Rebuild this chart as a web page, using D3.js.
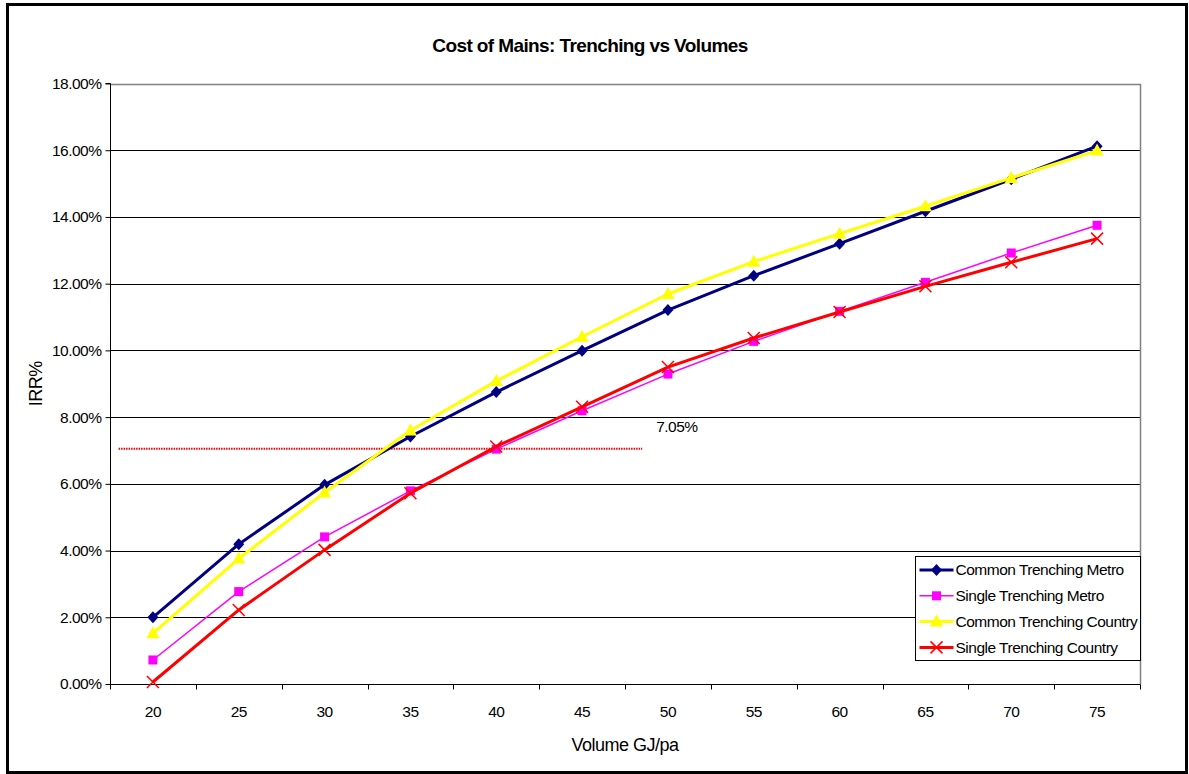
<!DOCTYPE html>
<html>
<head>
<meta charset="utf-8">
<script src="https://cdn.jsdelivr.net/npm/d3@7"></script>
<style>
  html, body { margin: 0; padding: 0; background: #fff; }
  svg { display: block; font-family: "Liberation Sans", Arial, sans-serif; }
</style>
</head>
<body>
<svg id="chart" width="1189" height="774"></svg>
<script>
// Annual volume per customer (GJ/pa)
const volumes = [20, 25, 30, 35, 40, 45, 50, 55, 60, 65, 70, 75];

// IRR (%) for each trenching scenario
const commonMetro    = [2.00, 4.19, 5.97, 7.42, 8.75, 9.99, 11.21, 12.24, 13.20, 14.17, 15.13, 16.12];
const singleMetro    = [0.72, 2.77, 4.41, 5.79, 7.04, 8.19, 9.29, 10.27, 11.17, 12.04, 12.92, 13.75];
const commonCountry  = [1.52, 3.76, 5.74, 7.60, 9.08, 10.41, 11.69, 12.66, 13.50, 14.32, 15.17, 15.99];
const singleCountry  = [0.06, 2.22, 4.02, 5.72, 7.12, 8.31, 9.50, 10.37, 11.15, 11.92, 12.64, 13.35];

const seriesNames = ["Common Trenching Metro", "Single Trenching Metro", "Common Trenching Country", "Single Trenching Country"];
const yTicks = [0, 2, 4, 6, 8, 10, 12, 14, 16, 18];

// Hurdle rate marker
const hurdleRate = 7.05;
const hurdleFrom = 18;   // x-extent expressed in volume units
const hurdleTo = 48.5;

const series = [
  { name: seriesNames[0], values: commonMetro,   color: "#000080", width: 3,   marker: "diamond" },
  { name: seriesNames[1], values: singleMetro,   color: "#FF00FF", width: 1.5, marker: "square" },
  { name: seriesNames[2], values: commonCountry, color: "#FFFF00", width: 3,   marker: "triangle" },
  { name: seriesNames[3], values: singleCountry, color: "#FF0000", width: 3,   marker: "cross" }
];

const svg = d3.select("#chart");
const plot = { left: 110, right: 1140, top: 83.5, bottom: 684 };
const labelSize = 15.5;

const x = d3.scaleBand().domain(volumes).range([plot.left, plot.right]).paddingInner(0).paddingOuter(0);
const xc = v => x(v) + x.bandwidth() / 2;
// continuous companion scale in volume units for the hurdle line
const xLin = d3.scaleLinear()
  .domain([volumes[0] - 2.5, volumes[volumes.length - 1] + 2.5])
  .range([plot.left, plot.right]);
const y = d3.scaleLinear().domain([0, 18]).range([plot.bottom, plot.top]);

// outer chart frame
svg.append("rect")
  .attr("x", 7.5).attr("y", 4.5).attr("width", 1179).attr("height", 768)
  .attr("fill", "#fff").attr("stroke", "#000").attr("stroke-width", 3);

// title
svg.append("text")
  .attr("x", 590).attr("y", 52)
  .attr("text-anchor", "middle")
  .attr("font-weight", "bold").attr("font-size", 19)
  .attr("letter-spacing", -0.6)
  .text("Cost of Mains: Trenching vs Volumes");

// gridlines
svg.append("g")
  .selectAll("line")
  .data(yTicks.filter(t => t > 0 && t < 18))
  .join("line")
  .attr("x1", plot.left).attr("x2", plot.right)
  .attr("y1", d => Math.round(y(d)) + 0.5).attr("y2", d => Math.round(y(d)) + 0.5)
  .attr("stroke", "#000").attr("stroke-width", 1);

// plot frame: top and right in grey
svg.append("path")
  .attr("d", `M${plot.left},${Math.round(plot.top) + 0.5}H${plot.right + 0.5}V${plot.bottom}`)
  .attr("fill", "none").attr("stroke", "#808080").attr("stroke-width", 1.5);

// y axis
const yAxis = d3.axisLeft(y)
  .tickValues(yTicks)
  .tickSize(5).tickPadding(4)
  .tickFormat(d => d.toFixed(2) + "%");
const gy = svg.append("g").attr("transform", `translate(${plot.left + 0.5},0)`).call(yAxis);
gy.select(".domain").attr("stroke", "#000").attr("d", `M-5,${y(18)}H0V${plot.bottom}`);
gy.selectAll(".tick line").attr("stroke", "#000");
gy.selectAll(".tick text").attr("font-size", labelSize).attr("letter-spacing", -0.5).attr("fill", "#000")
  .attr("font-family", "Liberation Sans, Arial, sans-serif");

// x axis: labels at category centres, ticks on category boundaries
const xAxis = d3.axisBottom(x).tickSize(0).tickPadding(21);
const gx = svg.append("g").attr("transform", `translate(0,${plot.bottom + 0.5})`).call(xAxis);
gx.select(".domain").attr("stroke", "#000").attr("d", `M${plot.left},0H${plot.right + 0.5}`);
gx.selectAll(".tick text").attr("font-size", labelSize).attr("letter-spacing", -0.5).attr("fill", "#000")
  .attr("font-family", "Liberation Sans, Arial, sans-serif");
const boundaries = volumes.map(v => x(v)).concat([x(volumes[volumes.length - 1]) + x.bandwidth()]);
gx.append("g").selectAll("line")
  .data(boundaries)
  .join("line")
  .attr("x1", d => Math.round(d) + 0.5).attr("x2", d => Math.round(d) + 0.5)
  .attr("y1", 0).attr("y2", 5)
  .attr("stroke", "#000");

// axis titles
svg.append("text")
  .attr("x", (plot.left + plot.right) / 2).attr("y", 751)
  .attr("text-anchor", "middle").attr("font-size", 18).attr("letter-spacing", -0.5)
  .text("Volume GJ/pa");
svg.append("text")
  .attr("transform", `translate(42,${(plot.top + plot.bottom) / 2}) rotate(-90)`)
  .attr("text-anchor", "middle").attr("font-size", 18).attr("letter-spacing", -0.5)
  .text("IRR%");

// hurdle line
svg.append("line")
  .attr("x1", xLin(hurdleFrom)).attr("x2", xLin(hurdleTo))
  .attr("y1", y(hurdleRate)).attr("y2", y(hurdleRate))
  .attr("stroke", "#FF0000").attr("stroke-width", 2)
  .attr("stroke-dasharray", "1.5,1");
svg.append("text")
  .attr("x", xLin(hurdleTo) + 14).attr("y", y(hurdleRate) - 17)
  .attr("font-size", labelSize).attr("letter-spacing", -0.5)
  .text(hurdleRate.toFixed(2) + "%");

// marker shapes
function drawMarker(g, type, color) {
  if (type === "diamond") {
    g.append("path").attr("d", "M0,-6L5.5,0L0,6L-5.5,0Z").attr("fill", color);
  } else if (type === "square") {
    g.append("rect").attr("x", -4.5).attr("y", -4.5).attr("width", 9).attr("height", 9).attr("fill", color);
  } else if (type === "triangle") {
    g.append("path").attr("d", "M0,-7L6.5,5L-6.5,5Z").attr("fill", color);
  } else if (type === "cross") {
    g.append("path").attr("d", "M-6,-6L6,6M6,-6L-6,6").attr("stroke", color).attr("stroke-width", 1.5).attr("fill", "none");
  }
}

const line = d3.line().x((d, i) => xc(volumes[i])).y(d => y(d));

series.forEach(s => {
  svg.append("path")
    .datum(s.values)
    .attr("d", line)
    .attr("fill", "none")
    .attr("stroke", s.color)
    .attr("stroke-width", s.width)
    .attr("stroke-linejoin", "round");
  svg.append("g").selectAll("g")
    .data(s.values)
    .join("g")
    .attr("transform", (d, i) => `translate(${xc(volumes[i])},${y(d)})`)
    .each(function () { drawMarker(d3.select(this), s.marker, s.color); });
});

// legend
const legend = svg.append("g").attr("transform", "translate(915.5,556.5)");
legend.append("rect").attr("width", 225).attr("height", 104)
  .attr("fill", "#fff").attr("stroke", "#000").attr("stroke-width", 1);
series.forEach((s, i) => {
  const gy0 = 13.5 + i * 25.8;
  const item = legend.append("g").attr("transform", `translate(0,${gy0})`);
  item.append("line").attr("x1", 4).attr("x2", 38).attr("y1", 0).attr("y2", 0)
    .attr("stroke", s.color).attr("stroke-width", s.width === 1.5 ? 1.5 : 3);
  const m = item.append("g").attr("transform", "translate(21,0)");
  drawMarker(m, s.marker, s.color);
  item.append("text").attr("x", 40).attr("y", 0).attr("dy", "0.35em")
    .attr("font-size", labelSize).attr("letter-spacing", -0.5)
    .text(s.name);
});
</script>
</body>
</html>
